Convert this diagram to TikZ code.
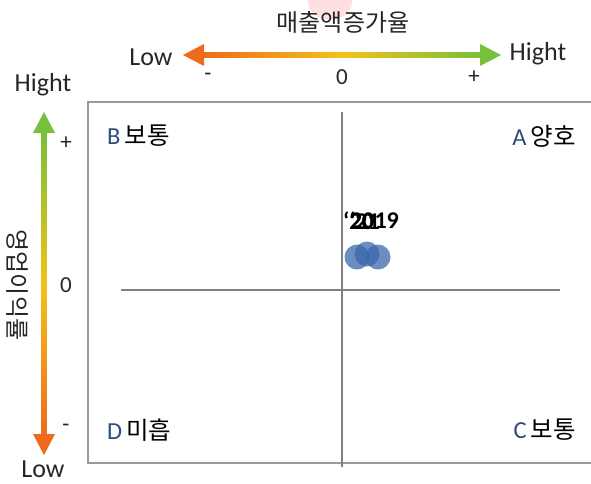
\documentclass[tikz,border=0pt]{standalone}
\usepackage{fontspec}
\setmainfont{Carlito}
\newfontfamily\kr{Noto Sans CJK KR}
\definecolor{lowC}{HTML}{EE6A1C}
\definecolor{midC}{HTML}{F2C21A}
\definecolor{highC}{HTML}{76C03A}
\definecolor{quadC}{HTML}{2E4C7A}
\definecolor{dotC}{HTML}{3A68AC}
\definecolor{lineC}{HTML}{808080}
\tikzset{
    axislabel/.style={font=\fontsize{26}{30}\selectfont, text=black!85},
    ticklabel/.style={font=\fontsize{23}{26}\selectfont, text=black!85},
    axistitle/.style={font=\kr\fontsize{24}{28}\selectfont, text=black!85},
    quadlabel/.style={font=\fontsize{24.5}{28}\selectfont, inner sep=0pt},
    yearlabel/.style={font=\bfseries\fontsize{24}{28}\selectfont, anchor=west, inner sep=0pt},
    dot/.style={fill=dotC, fill opacity=0.75, draw=none}
}
\begin{document}
\begin{tikzpicture}[x=1pt,y=-1pt]
    \useasboundingbox (0,0) rectangle (591,483);
    % faint mark behind the title
    \fill[red!12] (308,0) .. controls (306,26) and (354,26) .. (352,0) -- cycle;
    % horizontal axis
    \node[axistitle] (xtitle) at (343,22) {매출액증가율};
    \coordinate (xl) at (183,55);
    \coordinate (xr) at (501,55);
    \shade[left color=lowC, right color=highC, middle color=midC] (200,52.5) rectangle (484,57.5);
    \fill[lowC] (xl) -- ++(21,-11) -- ++(0,22) -- cycle;
    \fill[highC] (xr) -- ++(-21,-11) -- ++(0,22) -- cycle;
    \node[axislabel] (xlow) at (151,57) {Low};
    \node[axislabel] (xhigh) at (538,54) {Hight};
    \node[ticklabel] (xminus) at (208,77) {-};
    \node[ticklabel] (xzero) at (342,77) {0};
    \node[ticklabel] (xplus) at (474,77) {+};
    % vertical axis
    \node[axistitle, rotate=-90] (ytitle) at (17,285) {영업이익률};
    \coordinate (yt) at (44,112);
    \coordinate (yb) at (44,455);
    \shade[top color=highC, bottom color=lowC, middle color=midC] (41.5,128) rectangle (46.5,439);
    \fill[highC] (yt) -- ++(-11,21) -- ++(22,0) -- cycle;
    \fill[lowC] (yb) -- ++(-11,-21) -- ++(22,0) -- cycle;
    \node[axislabel] (yhigh) at (43,85) {Hight};
    \node[axislabel] (ylow) at (43,469) {Low};
    \node[ticklabel] (yplus) at (66,143) {+};
    \node[ticklabel] (yzero) at (66,285) {0};
    \node[ticklabel] (yminus) at (66,428) {-};
    % quadrant frame (open on the right, cut by the page)
    \draw[lineC!80, line width=1.2pt] (591,102) -- (88,102) -- (88,463) -- (591,463);
    \coordinate (vt) at (342,112);
    \coordinate (vb) at (342,467);
    \coordinate (hl) at (121,290);
    \coordinate (hr) at (560,290);
    \draw[lineC, line width=2.8pt] (vt) -- (vb);
    \draw[lineC, line width=2.2pt] (hl) -- (hr);
    \node[quadlabel, anchor=west] (qB) at (107,136) {\textcolor{quadC}{B}\,{\kr 보통}};
    \node[quadlabel, anchor=east] (qA) at (576,136) {\textcolor{quadC}{A}\,{\kr 양호}};
    \node[quadlabel, anchor=west] (qD) at (107,430) {\textcolor{quadC}{D}\,{\kr 미흡}};
    \node[quadlabel, anchor=east] (qC) at (576,430) {\textcolor{quadC}{C}\,{\kr 보통}};
    % data points
    \fill[dot] (357,257) circle (12.5);
    \fill[dot] (367,254) circle (12.5);
    \fill[dot] (378,257) circle (12.5);
    \node[yearlabel] (y20) at (343,221) {`20};
    \node[yearlabel] (y21) at (349,221) {`21};
    \node[yearlabel] (y19) at (350,221) {2019};
\end{tikzpicture}
\end{document}
